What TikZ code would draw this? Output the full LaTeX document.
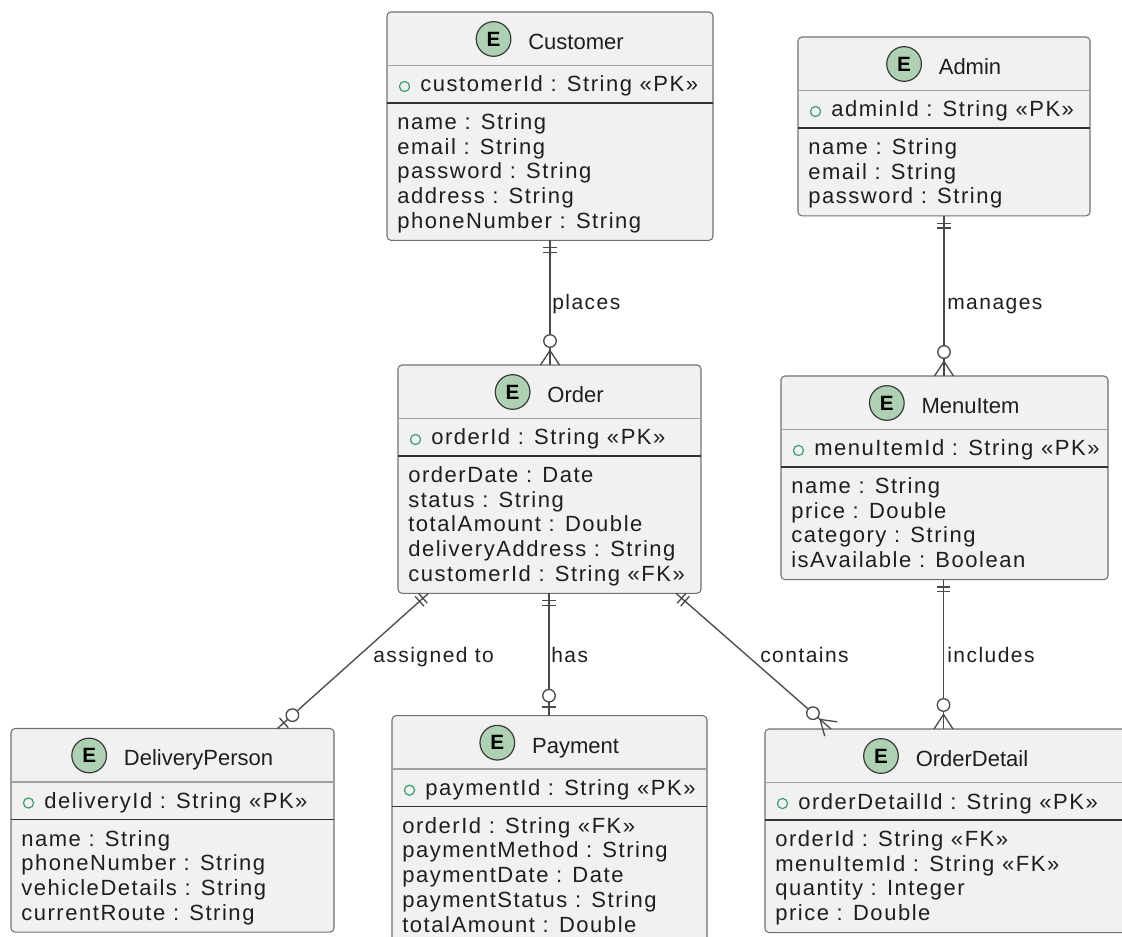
\documentclass[tikz,border=0pt]{standalone}
\usepackage{fontspec}
\setmainfont{Liberation Sans}
\newfontfamily\attrfont{Liberation Sans}[LetterSpace=7]
\usetikzlibrary{calc}

\definecolor{boxfill}{HTML}{F1F1F1}
\definecolor{boxline}{HTML}{707070}
\definecolor{hsepcol}{HTML}{A0A0A0}
\definecolor{ksepcol}{HTML}{333333}
\definecolor{spotfill}{HTML}{ADD1B2}
\definecolor{spotline}{HTML}{3A3A3A}
\definecolor{pkgreen}{HTML}{3A9E6E}
\definecolor{ink}{HTML}{1E1E1E}
\definecolor{relcol}{HTML}{4A4A4A}

\tikzset{
  x=0.75pt, y=-0.75pt,
  entbox/.style={draw=boxline, fill=boxfill, line width=0.8pt, rounded corners=3pt,
    inner sep=0pt, outer sep=0pt},
  hsep/.style={draw=hsepcol, line width=1.1pt},
  ksep/.style={draw=ksepcol, line width=1.2pt},
  spot/.style={circle, draw=spotline, fill=spotfill, line width=0.9pt, minimum size=26pt,
    inner sep=0pt, text=black, font=\fontsize{15.5}{15.5}\selectfont\bfseries},
  ttl/.style={inner sep=0pt, anchor=base, text=ink, font=\fontsize{16.5}{16.5}\selectfont},
  attr/.style={inner sep=0pt, anchor=base west, text=ink, font=\attrfont\fontsize{16.5}{18.5}\selectfont},
  pkmark/.style={circle, draw=pkgreen, line width=0.9pt, minimum size=7.6pt, inner sep=0pt},
  lbl/.style={inner sep=0pt, anchor=base west, text=ink, font=\attrfont\fontsize{15.75}{15.75}\selectfont},
  rel/.style={draw=relcol, line width=1pt},
  relmark/.style={draw=relcol, line width=1pt},
  relring/.style={draw=relcol, fill=white, line width=1pt},
}

% entity box: name, left, top, width, number of attributes, title, key, attributes
\newcommand\entity[8]{%
  \node[entbox, anchor=north west, minimum width={#4*0.75pt},
        minimum height={(129.5+24.7*(#5-1))*0.75pt}] (#1) at (#2,#3) {};
  \draw[hsep] ($(#1.north west)+(0,53.5)$) -- ($(#1.north east)+(0,53.5)$);
  \draw[ksep] ($(#1.north west)+(0,91)$) -- ($(#1.north east)+(0,91)$);
  \node[ttl] (#1-t) at ($(#1.north)+(26,37.5)$) {#6};
  \node[spot] (#1-e) at ($(#1-t.west |- #1.north)+(-34.5,27)$) {E};
  \node[pkmark] (#1-k) at ($(#1.north west)+(17.5,74.5)$) {};
  \node[attr] (#1-p) at ($(#1.north west)+(33,80)$) {#7};
  \foreach \a [count=\i] in {#8} {%
    \node[attr] (#1-a\i) at ($(#1.north west)+(10,{117.5+24.7*(\i-1)})$) {\a};}
}

% relationship end marks: end point #1, other end #2
\newcommand\markone[2]{%
  \path ($(#1)!5.6pt!(#2)$) coordinate (mk1) ($(#1)!9pt!(#2)$) coordinate (mk2);
  \draw[relmark] ($(mk1)!4.9pt!90:(#2)$) -- ($(mk1)!4.9pt!-90:(#2)$);
  \draw[relmark] ($(mk2)!4.9pt!90:(#2)$) -- ($(mk2)!4.9pt!-90:(#2)$);
}
\newcommand\markzeroone[2]{%
  \path ($(#1)!6.4pt!(#2)$) coordinate (mk1) ($(#1)!15pt!(#2)$) coordinate (mk2);
  \draw[relmark] ($(mk1)!4.9pt!90:(#2)$) -- ($(mk1)!4.9pt!-90:(#2)$);
  \draw[relring] (mk2) circle[radius=4.7pt];
}
\newcommand\markzeromany[2]{%
  \path ($(#1)!10.9pt!(#2)$) coordinate (mk1) ($(#1)!18pt!(#2)$) coordinate (mk2);
  \draw[relmark] ($(#1)!7.1pt!90:(#2)$) -- (mk1) -- ($(#1)!7.1pt!-90:(#2)$);
  \draw[relring] (mk2) circle[radius=4.7pt];
}

\begin{document}
\begin{tikzpicture}
\path[use as bounding box] (0,0) rectangle (1122,937);
\clip (0,0) rectangle (1122,937);

\entity{cust}{387}{12}{326}{5}{Customer}{customerId : String «PK»}%
  {name : String, email : String, password : String, address : String, phoneNumber : String}
\entity{admin}{798}{37}{292}{3}{Admin}{adminId : String «PK»}%
  {name : String, email : String, password : String}
\entity{order}{398}{365}{303}{5}{Order}{orderId : String «PK»}%
  {orderDate : Date, status : String, totalAmount : Double, deliveryAddress : String, customerId : String «FK»}
\entity{menu}{781}{376}{327}{4}{MenuItem}{menuItemId : String «PK»}%
  {name : String, price : Double, category : String, isAvailable : Boolean}
\entity{deliv}{11}{728.5}{323}{4}{DeliveryPerson}{deliveryId : String «PK»}%
  {name : String, phoneNumber : String, vehicleDetails : String, currentRoute : String}
\entity{pay}{392}{715.7}{315}{5}{Payment}{paymentId : String «PK»}%
  {orderId : String «FK», paymentMethod : String, paymentDate : Date, paymentStatus : String, totalAmount : Double}
\entity{detail}{765}{729}{362}{4}{OrderDetail}{orderDetailId : String «PK»}%
  {orderId : String «FK», menuItemId : String «FK», quantity : Integer, price : Double}

% connection points on the box borders
\coordinate (r1a) at (cust.south);
\coordinate (r1b) at (cust.south |- order.north);
\coordinate (r2a) at (admin.south);
\coordinate (r2b) at (admin.south |- menu.north);
\coordinate (r3a) at ($(order.south west)+(30.5,0)$);
\coordinate (r3b) at ($(deliv.north west)+(266.5,0)$);
\coordinate (r4a) at ($(order.south)+(-0.5,0)$);
\coordinate (r4b) at (r4a |- pay.north);
\coordinate (r5a) at ($(order.south east)+(-25,0)$);
\coordinate (r5b) at ($(detail.north west)+(66,0)$);
\coordinate (r6a) at ($(menu.south)+(-1,0)$);
\coordinate (r6b) at (r6a |- detail.north);

% relationship lines
\draw[rel] (r1a) -- (r1b);
\draw[rel] (r2a) -- (r2b);
\draw[rel] (r3a) -- (r3b);
\draw[rel] (r4a) -- (r4b);
\draw[rel] (r5a) -- (r5b);
\draw[rel] (r6a) -- (r6b);

% cardinality marks
\markone{r1a}{r1b}  \markzeromany{r1b}{r1a}
\markone{r2a}{r2b}  \markzeromany{r2b}{r2a}
\markone{r3a}{r3b}  \markzeroone{r3b}{r3a}
\markone{r4a}{r4b}  \markzeroone{r4b}{r4a}
\markone{r5a}{r5b}  \markzeromany{r5b}{r5a}
\markone{r6a}{r6b}  \markzeromany{r6b}{r6a}

% relationship labels
\node[lbl] (l1) at (552,309.5) {places};
\node[lbl] (l2) at (947,309.5) {manages};
\node[lbl] (l3) at (373,663) {assigned to};
\node[lbl] (l4) at (551,663) {has};
\node[lbl] (l5) at (760,663) {contains};
\node[lbl] (l6) at (947,663) {includes};
\end{tikzpicture}
\end{document}
